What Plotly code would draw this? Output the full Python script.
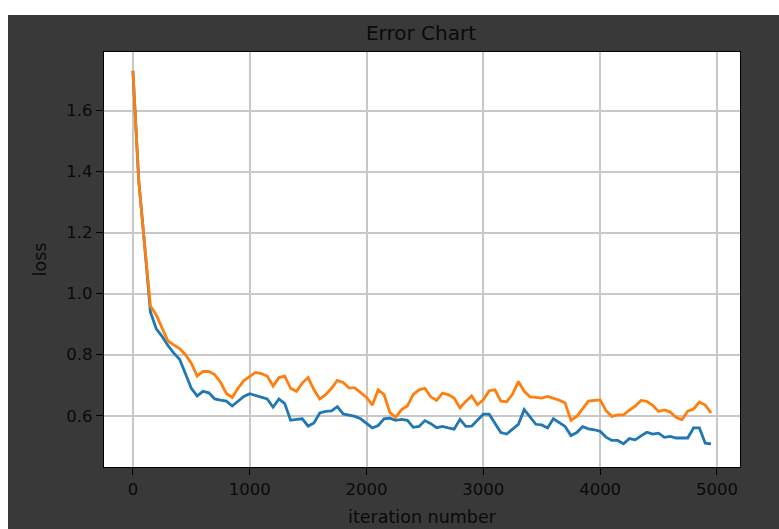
import plotly.graph_objects as go

iterations = list(range(0, 5000, 50))

train_loss = [
    1.73, 1.37, 1.16, 0.94, 0.885, 0.86, 0.83, 0.805, 0.785, 0.735,
    0.69, 0.665, 0.68, 0.675, 0.655, 0.651, 0.648, 0.632, 0.648, 0.663,
    0.672, 0.666, 0.662, 0.655, 0.628, 0.655, 0.64, 0.585, 0.588, 0.59,
    0.566, 0.576, 0.609, 0.614, 0.616, 0.63, 0.606, 0.601, 0.598, 0.59,
    0.574, 0.56, 0.568, 0.59, 0.592, 0.585, 0.588, 0.585, 0.562, 0.565,
    0.584, 0.574, 0.561, 0.565, 0.56, 0.556, 0.588, 0.565, 0.566, 0.587,
    0.605, 0.605, 0.575, 0.545, 0.54, 0.556, 0.572, 0.62, 0.595, 0.572,
    0.57, 0.56, 0.59, 0.578, 0.565, 0.535, 0.545, 0.564, 0.557, 0.554,
    0.549, 0.53, 0.519, 0.519, 0.508, 0.525, 0.521, 0.534, 0.546, 0.54,
    0.543, 0.529, 0.532, 0.527, 0.527, 0.527, 0.56, 0.56, 0.51, 0.508,
]

val_loss = [
    1.73, 1.37, 1.16, 0.96, 0.93, 0.89, 0.845, 0.832, 0.82, 0.80,
    0.772, 0.73, 0.745, 0.745, 0.735, 0.71, 0.673, 0.66, 0.69, 0.715,
    0.728, 0.742, 0.738, 0.73, 0.697, 0.725, 0.73, 0.69, 0.68, 0.707,
    0.725, 0.685, 0.655, 0.669, 0.69, 0.716, 0.709, 0.691, 0.691, 0.674,
    0.66, 0.635, 0.685, 0.669, 0.61, 0.595, 0.62, 0.632, 0.67, 0.685,
    0.69, 0.662, 0.65, 0.674, 0.669, 0.658, 0.626, 0.647, 0.665, 0.636,
    0.652, 0.682, 0.685, 0.648, 0.646, 0.67, 0.712, 0.68, 0.662, 0.66,
    0.658, 0.663, 0.658, 0.651, 0.642, 0.585, 0.598, 0.622, 0.648, 0.65,
    0.652, 0.617, 0.598, 0.603, 0.603, 0.618, 0.631, 0.65, 0.647, 0.634,
    0.614, 0.619, 0.612, 0.595, 0.587, 0.615, 0.622, 0.645, 0.635, 0.609,
]

x_ticks = [0, 1000, 2000, 3000, 4000, 5000]
y_ticks = [0.6, 0.8, 1.0, 1.2, 1.4, 1.6]
y_tick_text = ["0.6", "0.8", "1.0", "1.2", "1.4", "1.6"]

W, H = 779, 529
L, R, T, B = 104, 39, 52, 62
pw, ph = W - L - R, H - T - B

DARK = "#393939"
FONT = "DejaVu Sans"
TXT = "#0a0a0a"

fig = go.Figure()
fig.add_trace(go.Scatter(x=iterations, y=train_loss, mode="lines",
                         line=dict(color="#1f77b4", width=2.8), showlegend=False))
fig.add_trace(go.Scatter(x=iterations, y=val_loss, mode="lines",
                         line=dict(color="#ff7f0e", width=2.8), showlegend=False))

# white strips at top and left of the canvas (outside the dark figure)
fig.add_shape(type="rect", xref="paper", yref="paper",
              x0=-L / pw, x1=(W - L) / pw + 0.01, y0=1 + (T - 15) / ph, y1=1 + T / ph + 0.01,
              fillcolor="white", line_width=0, layer="below")
fig.add_shape(type="rect", xref="paper", yref="paper",
              x0=-L / pw - 0.01, x1=(8 - L) / pw, y0=-B / ph - 0.01, y1=1 + T / ph + 0.01,
              fillcolor="white", line_width=0, layer="below")

axis_common = dict(
    showgrid=True, gridcolor="#c8c8c8", gridwidth=1.5,
    showline=True, linecolor="black", linewidth=1.3, mirror=True,
    ticks="outside", ticklen=7, tickwidth=1.3, tickcolor="black",
    tickfont=dict(family=FONT, size=16.5, color=TXT),
    zeroline=False, automargin=False,
)

fig.update_layout(
    width=W, height=H,
    margin=dict(l=L, r=R, t=T, b=B, autoexpand=False),
    paper_bgcolor=DARK, plot_bgcolor="white",
    title=dict(text="Error Chart", x=(421) / W, xanchor="center",
               y=1 - 33 / H, yanchor="middle",
               font=dict(family=FONT, size=20, color=TXT)),
    xaxis=dict(axis_common, range=[-247.5, 5197.5], tickvals=x_ticks,
               title=dict(text="iteration number", standoff=12,
                          font=dict(family=FONT, size=17.5, color=TXT))),
    yaxis=dict(axis_common, range=[0.432, 1.792], tickvals=y_ticks, ticktext=y_tick_text,
               title=dict(text="loss", standoff=15,
                          font=dict(family=FONT, size=17.5, color=TXT))),
)

fig.write_html("out.html")
